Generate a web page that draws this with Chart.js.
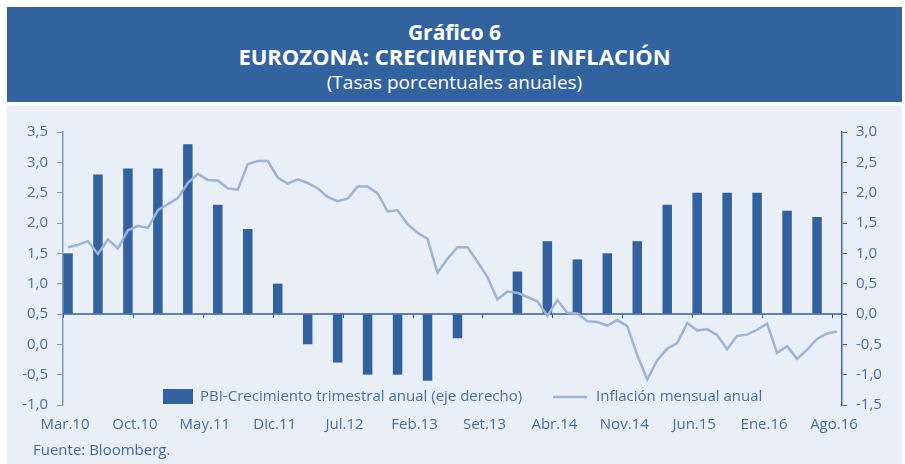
<!DOCTYPE html>
<html lang="es">
<head>
<meta charset="utf-8">
<title>Gráfico 6 - Eurozona: crecimiento e inflación</title>
<script src="https://cdn.jsdelivr.net/npm/chart.js@4.4.1/dist/chart.umd.min.js"></script>
<style>
  body { margin: 0; background: #fff; font-family: 'Open Sans', sans-serif; }
  #cabecera {
    position: absolute; left: 7px; top: 7px; width: 895px; height: 95px;
    background: #33639f; color: #fff; text-align: center;
  }
  #cabecera div { position: absolute; left: 0; right: 0; }
  .t1 { top: 11px; font-size: 21px; font-weight: bold; }
  .t2 { top: 34px; font-size: 22px; font-weight: bold; }
  .t3 { top: 62px; font-size: 19px; }
  #panel {
    position: absolute; left: 7px; top: 106px; width: 895px; height: 358px;
    background: #eaeef6;
  }
  #grafico { position: absolute; left: 0; top: 0; }
  #fuente { position: absolute; left: 26px; top: 333px; font-size: 15px; color: #3f6aa8; }
</style>
</head>
<body>
<div id="cabecera">
  <div class="t1">Gráfico 6</div>
  <div class="t2">EUROZONA: CRECIMIENTO E INFLACIÓN</div>
  <div class="t3">(Tasas porcentuales anuales)</div>
</div>
<div id="panel">
  <canvas id="grafico" width="895" height="340"></canvas>
  <div id="fuente">Fuente: Bloomberg.</div>
</div>
<script>
// etiquetas del eje x (cada 7 meses)
const etiquetas = ['Mar.10', 'Oct.10', 'May.11', 'Dic.11', 'Jul.12', 'Feb.13',
                   'Set.13', 'Abr.14', 'Nov.14', 'Jun.15', 'Ene.16', 'Ago.16'];

// inflación mensual anual, mar.2010 - ago.2016 (eje izquierdo)
const inflacion = [
  1.60, 1.64, 1.70, 1.49, 1.73, 1.58, 1.88, 1.95, 1.92, 2.21,   // mar10 - dic10
  2.31, 2.41, 2.66, 2.81, 2.71, 2.70, 2.57, 2.55, 2.97, 3.02, 3.02, 2.75, // 2011
  2.65, 2.72, 2.66, 2.57, 2.43, 2.36, 2.40, 2.60, 2.60, 2.49, 2.19, 2.21, // 2012
  1.98, 1.84, 1.74, 1.18, 1.41, 1.60, 1.60, 1.36, 1.11, 0.74, 0.87, 0.85, // 2013
  0.78, 0.71, 0.47, 0.73, 0.52, 0.51, 0.38, 0.37, 0.31, 0.40, 0.30, -0.18, // 2014
  -0.58, -0.26, -0.07, 0.02, 0.35, 0.23, 0.25, 0.15, -0.08, 0.14, 0.16, 0.24, // 2015
  0.34, -0.14, -0.03, -0.24, -0.09, 0.09, 0.18, 0.21                    // 2016
];

// PBI crecimiento trimestral anual, 1T2010 - 2T2016 (eje derecho)
const pbi = [
  1.0, 2.3, 2.4, 2.4,
  2.8, 1.8, 1.4, 0.5,
  -0.5, -0.8, -1.0, -1.0,
  -1.1, -0.4, 0.0, 0.7,
  1.2, 0.9, 1.0, 1.2,
  1.8, 2.0, 2.0, 2.0,
  1.7, 1.6
];

const nombresMes = ['Ene', 'Feb', 'Mar', 'Abr', 'May', 'Jun', 'Jul', 'Ago', 'Set', 'Oct', 'Nov', 'Dic'];
const meses = [];
for (let i = 0; i < inflacion.length; i++) {
  const m = (2 + i) % 12;
  const a = 10 + Math.floor((2 + i) / 12);
  meses.push(nombresMes[m] + '.' + a);
}

// el PBI se ubica en el último mes de cada trimestre
const pbiMensual = meses.map(() => null);
pbi.forEach((v, q) => { pbiMensual[q * 3] = v; });

const colorTexto = '#4470aa';
const fuente = "'Open Sans', sans-serif";

const coma = v => v.toFixed(1).replace('.', ',');

const extras = {
  id: 'extras',
  beforeDatasetsDraw(chart) {
    const ctx = chart.ctx;
    const x = chart.scales.x;
    const y0 = chart.scales.y1.getPixelForValue(0);
    const paso = x.getPixelForValue(1) - x.getPixelForValue(0);
    ctx.save();
    ctx.strokeStyle = '#2f5f9e';
    ctx.lineWidth = 1.5;
    ctx.beginPath();
    ctx.moveTo(chart.chartArea.left, y0);
    ctx.lineTo(chart.chartArea.right, y0);
    ctx.stroke();
    ctx.lineWidth = 1;
    for (let i = 0; i < meses.length; i += 7) {
      const px = Math.round(x.getPixelForValue(i) - paso / 2) + 0.5;
      ctx.beginPath();
      ctx.moveTo(px, y0);
      ctx.lineTo(px, y0 + 4);
      ctx.stroke();
    }
    ctx.restore();
  },
  afterDraw(chart) {
    const ctx = chart.ctx;
    const ds = chart.data.datasets;
    ctx.save();
    ctx.font = '15px ' + fuente;
    ctx.fillStyle = ds[1].backgroundColor;
    ctx.fillRect(156, 283, 30, 15);
    ctx.fillStyle = colorTexto;
    ctx.textBaseline = 'middle';
    ctx.fillText(ds[1].label, 193, 291);
    ctx.strokeStyle = ds[0].borderColor;
    ctx.lineWidth = 2.5;
    ctx.beginPath();
    ctx.moveTo(546, 291);
    ctx.lineTo(580, 291);
    ctx.stroke();
    ctx.fillText(ds[0].label, 589, 291);
    ctx.restore();
  }
};

new Chart(document.getElementById('grafico'), {
  data: {
    labels: meses,
    datasets: [
      {
        type: 'line',
        label: 'Inflación mensual anual',
        data: inflacion,
        yAxisID: 'y',
        borderColor: '#9cb4d6',
        borderWidth: 2.5,
        pointRadius: 0,
        tension: 0,
        order: 0
      },
      {
        type: 'bar',
        label: 'PBI-Crecimiento trimestral anual (eje derecho)',
        data: pbiMensual,
        yAxisID: 'y1',
        backgroundColor: '#31619e',
        barPercentage: 1,
        categoryPercentage: 0.95,
        order: 1
      }
    ]
  },
  options: {
    responsive: false,
    animation: false,
    layout: { padding: { top: 26, left: 0, right: 0, bottom: 0 } },
    plugins: { legend: { display: false }, tooltip: { enabled: false } },
    scales: {
      x: {
        offset: true,
        grid: { display: false },
        border: { display: false },
        ticks: {
          autoSkip: false,
          maxRotation: 0,
          padding: 3,
          labelOffset: -3,
          color: colorTexto,
          font: { family: fuente, size: 15 },
          callback: (v, i) => i % 7 === 0 ? etiquetas[i / 7] : ''
        },
        afterFit: s => { s.height = 41; }
      },
      y: {
        position: 'left',
        min: -1,
        max: 3.5,
        grid: { drawOnChartArea: false, tickLength: 6, color: '#7e9ccb' },
        border: { color: '#7e9ccb', width: 1.5 },
        ticks: {
          stepSize: 0.5,
          padding: 9,
          color: colorTexto,
          font: { family: fuente, size: 15 },
          callback: v => coma(v)
        },
        afterFit: s => { s.width = 56; }
      },
      y1: {
        position: 'right',
        min: -1.5,
        max: 3,
        grid: { drawOnChartArea: false, tickLength: 5, color: '#3c69a7' },
        border: { color: '#3c69a7', width: 1.5 },
        ticks: {
          stepSize: 0.5,
          padding: 9,
          color: colorTexto,
          font: { family: fuente, size: 15 },
          callback: v => coma(v)
        },
        afterFit: s => { s.width = 60; }
      }
    }
  },
  plugins: [extras]
});
</script>
</body>
</html>
